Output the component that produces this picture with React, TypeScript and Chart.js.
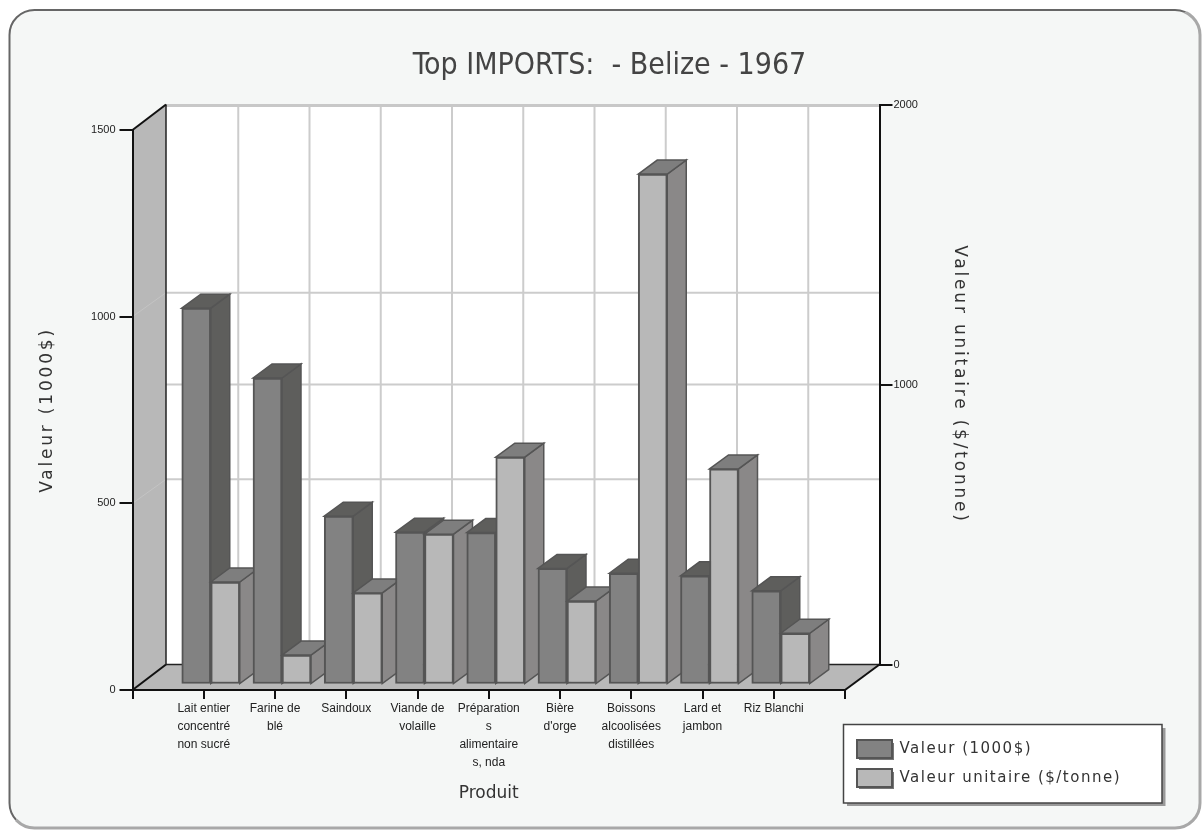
import React, { useEffect, useRef } from "react";
import { Chart, registerables } from "chart.js";

Chart.register(...registerables);

const chartTitle = "Top IMPORTS:  - Belize - 1967";
const categories: string[][] = [
  ["Lait entier", "concentré", "non sucré"],
  ["Farine de", "blé"],
  ["Saindoux"],
  ["Viande de", "volaille"],
  ["Préparation", "s", "alimentaire", "s, nda"],
  ["Bière", "d'orge"],
  ["Boissons", "alcoolisées", "distillées"],
  ["Lard et", "jambon"],
  ["Riz Blanchi"],
];
const valeur = [1008, 821, 451, 408, 407, 311, 298, 291, 251];
const valeurUnitaire = [366, 105, 327, 537, 812, 298, 1823, 770, 183];
const seriesNames = ["Valeur (1000$)", "Valeur unitaire ($/tonne)"];
const xTitle = "Produit";

const faces = [
  { front: "#828282", side: "#5e5e5c", top: "#5e5e5c" },
  { front: "#b8b8b8", side: "#8a8888", top: "#7e7e7e" },
];

const sans = "'DejaVu Sans', sans-serif";
const small = "'Liberation Sans', Arial, sans-serif";

function spaced(obj: any, method: string, px: string) {
  if (obj.__spaced && obj.__spaced[method]) return;
  const orig = obj[method];
  obj[method] = function (...a: any[]) {
    const c = this.ctx;
    c.save();
    c.letterSpacing = px;
    orig.apply(this, a);
    c.restore();
  };
  obj.__spaced = { ...(obj.__spaced || {}), [method]: true };
}

const poly = (ctx: CanvasRenderingContext2D, pts: number[][]) => {
  ctx.beginPath();
  pts.forEach((p, i) => (i ? ctx.lineTo(p[0], p[1]) : ctx.moveTo(p[0], p[1])));
  ctx.closePath();
};
const line = (ctx: CanvasRenderingContext2D, x1: number, y1: number, x2: number, y2: number, color: string, w: number) => {
  ctx.strokeStyle = color;
  ctx.lineWidth = w;
  ctx.beginPath();
  ctx.moveTo(x1, y1);
  ctx.lineTo(x2, y2);
  ctx.stroke();
};

const scene3d = {
  id: "scene3d",
  afterLayout(chart: any) {
    const y1 = chart.scales.y1;
    y1.left = chart.chartArea.right + 34.5;
    y1.right = 975;
    y1.top = chart.chartArea.top - 25.5;
    y1.bottom = chart.chartArea.bottom - 25.5;
    y1.width = y1.right - y1.left;
    y1.height = y1.bottom - y1.top;
    y1.configure();
    const lg = chart.legend;
    lg.left = 846;
    lg.right = 1160;
    lg.top = 729;
    lg.bottom = 800;
    chart.titleBlock.left = 16;
    spaced(chart.scales.y, "drawTitle", "2.8px");
    spaced(y1, "drawTitle", "2.8px");
    spaced(lg, "draw", "1.5px");
  },
  beforeDraw(chart: any) {
    const ctx: CanvasRenderingContext2D = chart.ctx;
    const { left: L, right: R, top: T, bottom: B } = chart.chartArea;
    const y = chart.scales.y;
    const y1 = chart.scales.y1;
    const x = chart.scales.x;
    const bL = L + 33.5;
    const bR = y1.left;
    const bT = y1.top;
    const bB = y1.bottom;
    ctx.save();
    // panel
    ctx.fillStyle = "#ffffff";
    ctx.fillRect(0, 0, chart.width, chart.height);
    ctx.beginPath();
    ctx.roundRect(9.5, 10, 1190.5, 818, 25);
    ctx.fillStyle = "#f5f7f6";
    ctx.fill();
    ctx.save();
    poly(ctx, [[0, 0], [1203, 0], [0, 831]]);
    ctx.clip();
    ctx.beginPath();
    ctx.roundRect(9.5, 10, 1190.5, 818, 25);
    ctx.strokeStyle = "#666666";
    ctx.lineWidth = 2;
    ctx.stroke();
    ctx.restore();
    ctx.save();
    poly(ctx, [[1203, 0], [1203, 831], [0, 831]]);
    ctx.clip();
    ctx.beginPath();
    ctx.roundRect(9.5, 10, 1190.5, 818, 25);
    ctx.strokeStyle = "#a8a8a8";
    ctx.lineWidth = 3;
    ctx.stroke();
    ctx.restore();
    // back wall
    ctx.fillStyle = "#ffffff";
    ctx.fillRect(bL, bT, bR - bL, bB - bT);
    // walls
    ctx.fillStyle = "#b8b8b8";
    poly(ctx, [[L, T], [bL, bT], [bL, bB], [L, B]]);
    ctx.fill();
    poly(ctx, [[L, B], [bL, bB], [bR, bB], [R, B]]);
    ctx.fill();
    // grid on walls
    const grid = "#cccccc";
    for (let k = 1; k < x.ticks.length - 1; k++) {
      const px = x.getPixelForTick(k) + 34.5;
      line(ctx, px, bT, px, bB, grid, 2);
    }
    y.ticks.forEach((t: any) => {
      if (t.value === 0 || t.value === y.max) return;
      const py = y.getPixelForValue(t.value);
      line(ctx, bL, py - 24, bR, py - 24, grid, 2);
      line(ctx, L, py, bL, py - 24, "#c4c4c4", 1);
    });
    y1.ticks.forEach((t: any) => {
      if (t.value === 0 || t.value === y1.max) return;
      const py = y1.getPixelForValue(t.value);
      line(ctx, bL, py, bR, py, grid, 2);
    });
    line(ctx, bL, bT + 1, bR, bT + 1, "#c8c8c8", 3);
    // edges
    line(ctx, bL, bT, bL, bB, "#222222", 1.5);
    line(ctx, bL, bB, bR, bB, "#222222", 1.5);
    line(ctx, L, T, bL, bT, "#111111", 2);
    line(ctx, L, B, bL, bB, "#111111", 2);
    line(ctx, R, B, bR, bB, "#111111", 2);
    // legend box
    ctx.fillStyle = "#999999";
    ctx.fillRect(847, 728, 318.5, 78);
    ctx.fillStyle = "#ffffff";
    ctx.fillRect(843.5, 724.5, 318.5, 78.5);
    ctx.strokeStyle = "#444444";
    ctx.lineWidth = 1.5;
    ctx.strokeRect(843.5, 724.5, 318.5, 78.5);
    ctx.fillStyle = "#777777";
    ctx.fillRect(859, 743, 35, 17);
    ctx.fillRect(859, 772, 35, 17);
    ctx.restore();
  },
  beforeDatasetsDraw(chart: any) {
    const ctx: CanvasRenderingContext2D = chart.ctx;
    const zero = chart.scales.y.getPixelForValue(0) - 5.5;
    const metas = [chart.getDatasetMeta(0), chart.getDatasetMeta(1)];
    const scales = [chart.scales.y, chart.scales.y1];
    const dx = 19;
    const dy = -14;
    for (let i = 0; i < chart.data.labels.length; i++) {
      metas.forEach((meta: any, d: number) => {
        const el = meta.data[i];
        if (!el || chart.data.datasets[d].data[i] == null) return;
        const shift = zero - scales[d].getPixelForValue(0);
        ctx.save();
        ctx.translate(7, shift);
        const l = el.x - el.width / 2;
        const r = el.x + el.width / 2;
        const t = el.y;
        const b = el.base;
        ctx.strokeStyle = "#555555";
        ctx.lineWidth = 1.5;
        ctx.fillStyle = faces[d].side;
        poly(ctx, [[r, t], [r + dx, t + dy], [r + dx, b + dy], [r, b]]);
        ctx.fill();
        ctx.stroke();
        ctx.fillStyle = faces[d].top;
        poly(ctx, [[l, t], [l + dx, t + dy], [r + dx, t + dy], [r, t]]);
        ctx.fill();
        ctx.stroke();
        el.draw(ctx);
        ctx.restore();
      });
    }
    return false;
  },
};

export default function App() {
  const ref = useRef<HTMLCanvasElement>(null);
  useEffect(() => {
    document.body.style.margin = "0";
    const labels: any[] = ["", ...categories, ""];
    const plain = (v: any) => String(v);
    const chart = new Chart(ref.current as HTMLCanvasElement, {
      type: "bar",
      data: {
        labels,
        datasets: [
          {
            label: seriesNames[0],
            data: [null, ...valeur, null],
            yAxisID: "y",
            backgroundColor: faces[0].front,
            borderColor: "#555555",
            borderWidth: 2,
            borderSkipped: false,
            barThickness: 29,
          },
          {
            label: seriesNames[1],
            data: [null, ...valeurUnitaire, null],
            yAxisID: "y1",
            backgroundColor: faces[1].front,
            borderColor: "#555555",
            borderWidth: 2,
            borderSkipped: false,
            barThickness: 29,
          },
        ],
      } as any,
      options: {
        responsive: false,
        animation: false,
        layout: { padding: 0, autoPadding: false },
        plugins: {
          title: {
            display: true,
            text: chartTitle,
            color: "#444444",
            font: { family: "'DejaVu Sans Condensed', 'DejaVu Sans', sans-serif", size: 30, weight: "normal", lineHeight: 1.2 },
            padding: { top: 48, bottom: 46 },
          },
          legend: {
            display: true,
            position: "chartArea",
            align: "start",
            labels: {
              boxWidth: 35,
              boxHeight: 18,
              padding: 11,
              color: "#333333",
              font: { family: sans, size: 15 },
              generateLabels: (c: any) =>
                c.data.datasets.map((ds: any, i: number) => ({
                  text: ds.label,
                  fillStyle: ds.backgroundColor,
                  strokeStyle: "#555555",
                  lineWidth: 2,
                  datasetIndex: i,
                  fontColor: "#333333",
                })),
            },
          },
          tooltip: { enabled: false },
        },
        scales: {
          x: {
            type: "category",
            offset: false,
            afterFit: (s: any) => {
              s.height = 141;
            },
            grid: { display: true, offset: false, drawOnChartArea: false, tickLength: 9, tickColor: "#111111", lineWidth: 2 },
            border: { display: true, color: "#111111", width: 2 },
            ticks: {
              autoSkip: false,
              maxRotation: 0,
              minRotation: 0,
              padding: 1,
              color: "#222222",
              font: { family: small, size: 12, lineHeight: 1.5 },
            },
            title: {
              display: true,
              text: xTitle,
              color: "#333333",
              font: { family: sans, size: 17 },
              padding: { top: 0, bottom: 27 },
            },
          },
          y: {
            position: "left",
            min: 0,
            max: 1500,
            afterFit: (s: any) => {
              s.width = 132.5;
            },
            grid: { display: true, drawOnChartArea: false, tickLength: 13, tickColor: "#111111", lineWidth: 2 },
            border: { display: true, color: "#111111", width: 2 },
            ticks: { stepSize: 500, padding: 4, color: "#222222", font: { family: small, size: 11 }, callback: plain },
            title: {
              display: true,
              text: seriesNames[0],
              color: "#333333",
              font: { family: sans, size: 17 },
              padding: { top: 37, bottom: 0 },
            },
          },
          y1: {
            position: "right",
            min: 0,
            max: 2000,
            afterFit: (s: any) => {
              s.width = 1203 - 845;
            },
            grid: { display: true, drawOnChartArea: false, tickLength: 13, tickColor: "#111111", lineWidth: 2 },
            border: { display: true, color: "#111111", width: 2 },
            ticks: { stepSize: 1000, padding: 1, color: "#222222", font: { family: small, size: 11 }, callback: plain },
            title: {
              display: true,
              text: seriesNames[1],
              color: "#333333",
              font: { family: sans, size: 17 },
              padding: { top: 5, bottom: 0 },
            },
          },
        },
      } as any,
      plugins: [scene3d as any],
    });
    return () => chart.destroy();
  }, []);
  return (
    <div style={{ position: "absolute", left: 0, top: 0, width: 1203, height: 831 }}>
      <canvas ref={ref} width={1203} height={831} style={{ display: "block" }} />
    </div>
  );
}
